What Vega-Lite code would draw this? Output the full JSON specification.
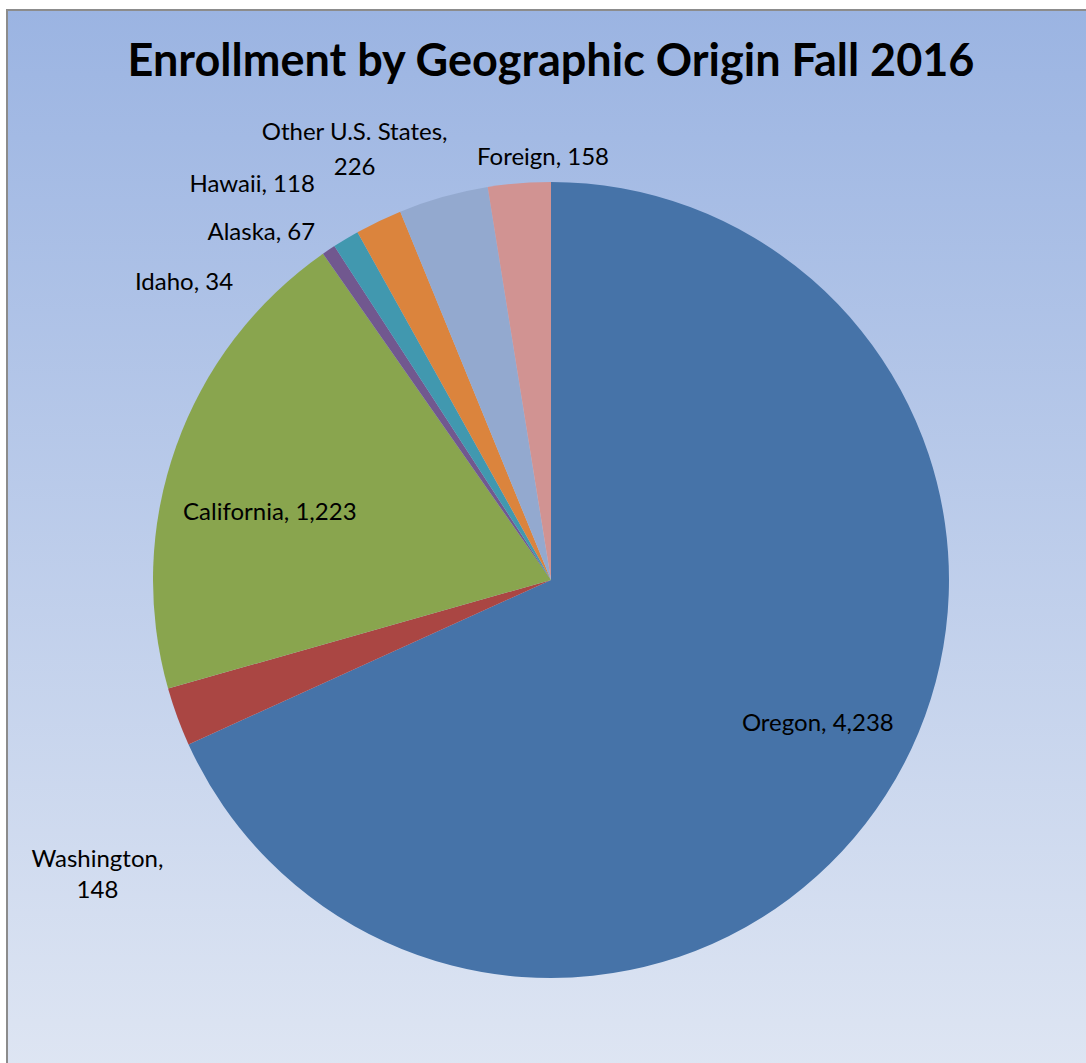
{
  "$schema": "https://vega.github.io/schema/vega-lite/v6.json",
  "width": 1088,
  "height": 1140,
  "autosize": {"type": "none"},
  "padding": {"left": 7, "top": 10, "right": -9, "bottom": -87},
  "background": "white",
  "title": {
    "text": "Enrollment by Geographic Origin Fall 2016",
    "font": "Lato",
    "fontSize": 45,
    "fontWeight": "bold",
    "color": "black",
    "anchor": "middle",
    "frame": "group",
    "baseline": "alphabetic",
    "offset": -112
  },
  "config": {
    "view": {"stroke": null},
    "text": {"font": "Lato", "fontSize": 24, "color": "black", "letterSpacing": 1.8}
  },
  "data": {
    "values": [
      {"region": "Oregon", "students": 4238, "order": 1, "label": "Oregon, 4,238"},
      {"region": "Washington", "students": 148, "order": 2, "label": "Washington,\n148"},
      {"region": "California", "students": 1223, "order": 3, "label": "California, 1,223"},
      {"region": "Idaho", "students": 34, "order": 4, "label": "Idaho, 34"},
      {"region": "Alaska", "students": 67, "order": 5, "label": "Alaska, 67"},
      {"region": "Hawaii", "students": 118, "order": 6, "label": "Hawaii, 118"},
      {"region": "Other U.S. States", "students": 226, "order": 7, "label": "Other U.S. States,\n226"},
      {"region": "Foreign", "students": 158, "order": 8, "label": "Foreign, 158"}
    ]
  },
  "layer": [
    {
      "data": {"values": [{"panel": "background"}]},
      "mark": {
        "type": "rect",
        "fill": {
          "gradient": "linear",
          "x1": 0, "y1": 0, "x2": 0, "y2": 1,
          "stops": [
            {"offset": 0, "color": "#9bb4e2"},
            {"offset": 1, "color": "#e3e9f4"}
          ]
        },
        "stroke": "#8c8c8c",
        "strokeWidth": 2
      },
      "encoding": {}
    },
    {
      "transform": [
        {"stack": "students", "groupby": [], "sort": [{"field": "order", "order": "ascending"}], "as": ["s0", "s1"]}
      ],
      "mark": {"type": "arc", "outerRadius": 398},
      "encoding": {
        "theta": {"field": "s0", "type": "quantitative", "stack": null, "scale": {"domain": [0, 6212], "nice": false, "zero": true}},
        "theta2": {"field": "s1"},
        "color": {
          "field": "region", "type": "nominal", "legend": null,
          "scale": {
            "domain": ["Oregon", "Washington", "California", "Idaho", "Alaska", "Hawaii", "Other U.S. States", "Foreign"],
            "range": ["#4673a8", "#aa4643", "#89a54e", "#71588f", "#4198af", "#db843d", "#93a9cf", "#d19392"]
          }
        }
      }
    },
    {
      "transform": [
        {"stack": "students", "groupby": [], "sort": [{"field": "order", "order": "ascending"}], "as": ["s0", "s1"]},
        {"calculate": "(datum.s0 + datum.s1) / 2", "as": "mid"},
        {"filter": "datum.region === 'Oregon'"}
      ],
      "mark": {"type": "text", "radius": 303, "thetaOffset": -0.079, "align": "center", "baseline": "middle"},
      "encoding": {"theta": {"field": "mid", "type": "quantitative", "stack": null}, "text": {"field": "label"}}
    },
    {
      "transform": [
        {"stack": "students", "groupby": [], "sort": [{"field": "order", "order": "ascending"}], "as": ["s0", "s1"]},
        {"calculate": "(datum.s0 + datum.s1) / 2", "as": "mid"},
        {"filter": "datum.region === 'California'"}
      ],
      "mark": {"type": "text", "radius": 289, "thetaOffset": -0.11, "align": "center", "baseline": "middle"},
      "encoding": {"theta": {"field": "mid", "type": "quantitative", "stack": null}, "text": {"field": "label"}}
    },
    {
      "transform": [
        {"stack": "students", "groupby": [], "sort": [{"field": "order", "order": "ascending"}], "as": ["s0", "s1"]},
        {"calculate": "(datum.s0 + datum.s1) / 2", "as": "mid"},
        {"filter": "datum.region === 'Washington'"}
      ],
      "mark": {"type": "text", "radius": 533, "thetaOffset": -0.202, "align": "center", "baseline": "middle", "lineBreak": "\n", "lineHeight": 31},
      "encoding": {"theta": {"field": "mid", "type": "quantitative", "stack": null}, "text": {"field": "label"}}
    },
    {
      "transform": [
        {"stack": "students", "groupby": [], "sort": [{"field": "order", "order": "ascending"}], "as": ["s0", "s1"]},
        {"calculate": "(datum.s0 + datum.s1) / 2", "as": "mid"},
        {"filter": "datum.region === 'Idaho'"}
      ],
      "mark": {"type": "text", "radius": 472, "thetaOffset": -0.298, "align": "center", "baseline": "middle"},
      "encoding": {"theta": {"field": "mid", "type": "quantitative", "stack": null}, "text": {"field": "label"}}
    },
    {
      "transform": [
        {"stack": "students", "groupby": [], "sort": [{"field": "order", "order": "ascending"}], "as": ["s0", "s1"]},
        {"calculate": "(datum.s0 + datum.s1) / 2", "as": "mid"},
        {"filter": "datum.region === 'Alaska'"}
      ],
      "mark": {"type": "text", "radius": 452, "thetaOffset": -0.154, "align": "center", "baseline": "middle"},
      "encoding": {"theta": {"field": "mid", "type": "quantitative", "stack": null}, "text": {"field": "label"}}
    },
    {
      "transform": [
        {"stack": "students", "groupby": [], "sort": [{"field": "order", "order": "ascending"}], "as": ["s0", "s1"]},
        {"calculate": "(datum.s0 + datum.s1) / 2", "as": "mid"},
        {"filter": "datum.region === 'Hawaii'"}
      ],
      "mark": {"type": "text", "radius": 495, "thetaOffset": -0.2, "align": "center", "baseline": "middle"},
      "encoding": {"theta": {"field": "mid", "type": "quantitative", "stack": null}, "text": {"field": "label"}}
    },
    {
      "transform": [
        {"stack": "students", "groupby": [], "sort": [{"field": "order", "order": "ascending"}], "as": ["s0", "s1"]},
        {"calculate": "(datum.s0 + datum.s1) / 2", "as": "mid"},
        {"filter": "datum.region === 'Other U.S. States'"}
      ],
      "mark": {"type": "text", "radius": 488, "thetaOffset": -0.14, "align": "center", "baseline": "middle", "lineBreak": "\n", "lineHeight": 35},
      "encoding": {"theta": {"field": "mid", "type": "quantitative", "stack": null}, "text": {"field": "label"}}
    },
    {
      "transform": [
        {"stack": "students", "groupby": [], "sort": [{"field": "order", "order": "ascending"}], "as": ["s0", "s1"]},
        {"calculate": "(datum.s0 + datum.s1) / 2", "as": "mid"},
        {"filter": "datum.region === 'Foreign'"}
      ],
      "mark": {"type": "text", "radius": 422, "thetaOffset": 0.061, "align": "center", "baseline": "middle"},
      "encoding": {"theta": {"field": "mid", "type": "quantitative", "stack": null}, "text": {"field": "label"}}
    }
  ]
}
